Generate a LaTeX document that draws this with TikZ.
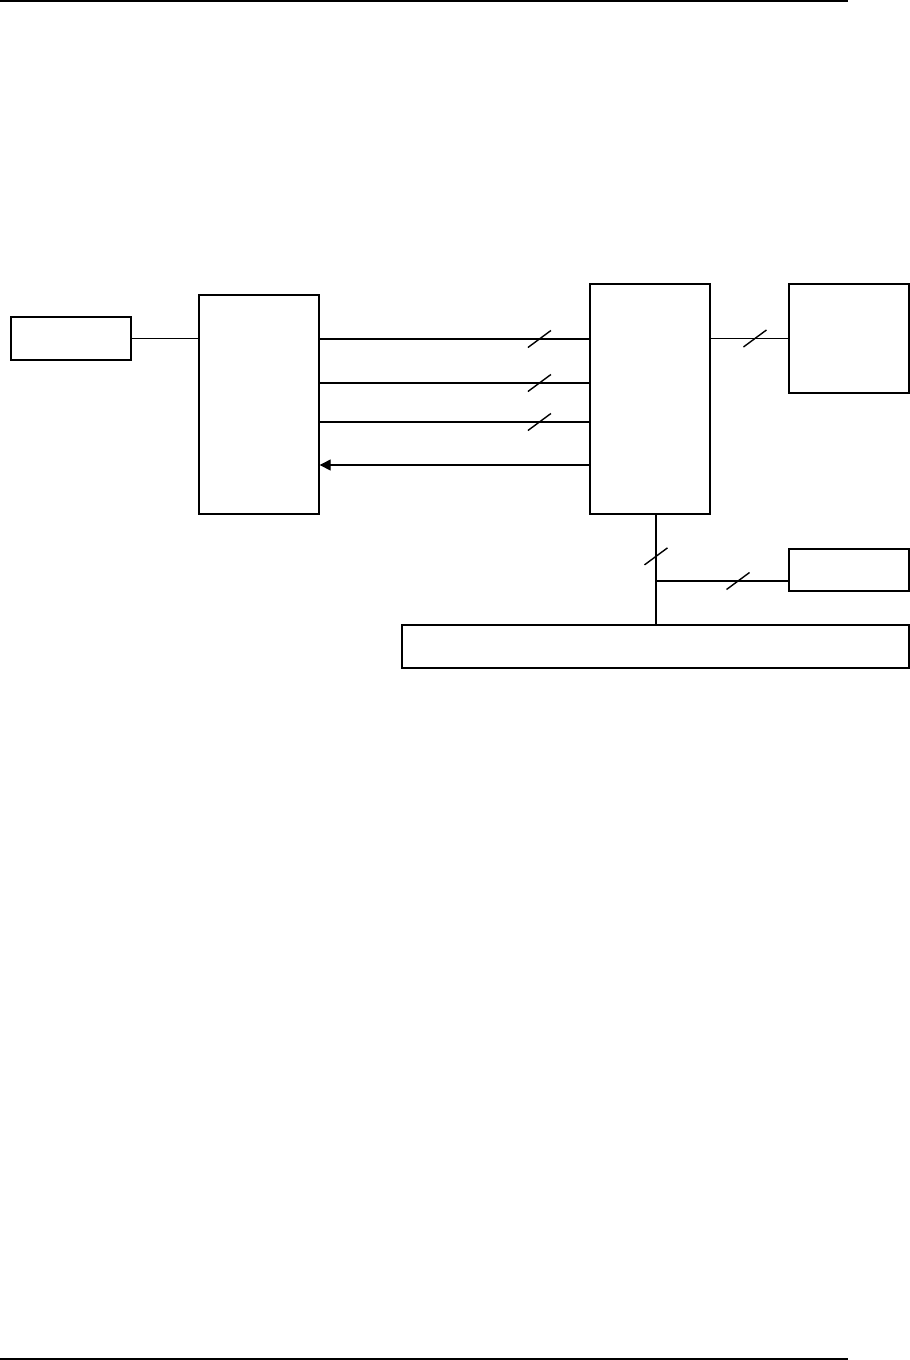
\documentclass[tikz,border=0pt]{standalone}
\usepackage{tikz}
\usetikzlibrary{positioning,arrows.meta,calc}

\begin{document}
\begin{tikzpicture}[
  x=0.5pt, y=-0.5pt,
  blk/.style={rectangle, draw=black, line width=0.7pt, inner sep=0pt,
              minimum width=60pt},
  conn/.style={line width=0.7pt, draw=black},
  back/.style={-{Triangle[length=5.5pt,width=5.5pt]}, line width=0.7pt, draw=black},
  rule/.style={line width=1pt, draw=black},
  slash/.pic={\draw[line width=0.7pt] (-11.5,8.5) -- (11.5,-8.5);}
]
\useasboundingbox (0,0) rectangle (910,1360);

\draw[rule] (0,0.8) -- (848,0.8);
\draw[rule] (0,1359) -- (848,1359);

\node[blk, minimum height=21.5pt] (src)  at (71,338.5)   {};
\node[blk, minimum height=109.5pt] (ctl) at (259,404.5)  {};
\node[blk, minimum height=115pt] (proc)  at (650,399)    {};
\node[blk, minimum height=54.5pt] (mem)  at (849,338.5)  {};
\node[blk, minimum height=21pt] (dev)    at (849,570)    {};
\node[blk, minimum width=253.5pt, minimum height=21.5pt] (bus) at (655.5,646.5) {};
\coordinate (tap) at (656,581);

\draw[conn] (src.east) -- (src.east -| ctl.west);
\draw[conn] (ctl.east |- 0,339) -- (proc.west |- 0,339) pic[pos=0.815]{slash};
\draw[conn] (ctl.east |- 0,383) -- (proc.west |- 0,383) pic[pos=0.815]{slash};
\draw[conn] (ctl.east |- 0,422) -- (proc.west |- 0,422) pic[pos=0.815]{slash};
\draw[back] (proc.west |- 0,465) -- (ctl.east |- 0,465);

\draw[conn] (proc.east |- mem.west) -- (mem.west) pic[pos=0.57]{slash};
\draw[conn] (proc.south -| tap) -- (bus.north -| tap) pic[pos=0.38]{slash};
\draw[conn] (tap) -- (tap -| dev.west) pic[pos=0.62]{slash};
\end{tikzpicture}
\end{document}
